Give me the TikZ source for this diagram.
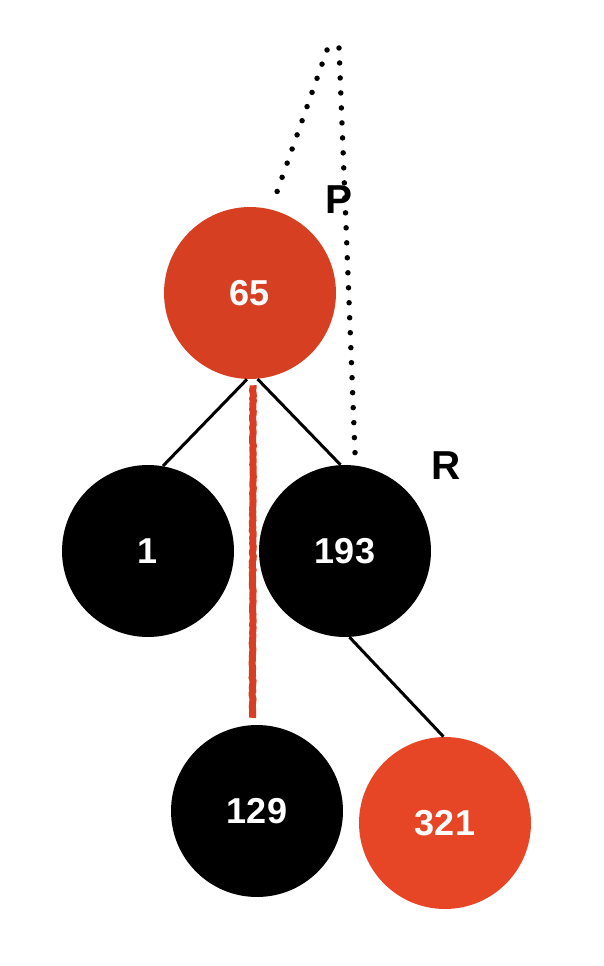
\documentclass[tikz,border=0pt]{standalone}
\usepackage{fontspec}
\setmainfont{Liberation Sans}
\usetikzlibrary{decorations.pathmorphing}
\definecolor{nodered}{HTML}{D73F23}
\definecolor{leafred}{HTML}{E64526}
\begin{document}
\begin{tikzpicture}[
  x=0.02cm, y=-0.02cm,
  rbnode/.style={circle, minimum size=3.44cm, inner sep=0pt, text=white, font=\fontsize{20.5}{24}\selectfont\bfseries},
  blacknode/.style={rbnode, fill=black},
  rednode/.style={rbnode, fill=nodered},
  edge/.style={line width=0.06cm},
  dots/.style={line width=0.11cm, line cap=round, dash pattern=on 0pt off 0.3cm},
  label/.style={font=\fontsize{23}{27}\selectfont\bfseries}
]
\useasboundingbox (0,0) rectangle (604,966);
\node[rednode] (n65) at (250,293) {65};
\node[blacknode] (n1) at (148,551) {1};
\node[blacknode] (n193) at (345,551) {193};
\node[blacknode] (n129) at (257,811) {129};
\node[rednode, fill=leafred] (n321) at (445,823) {321};
\node[label] (lblP) at (339,200) {P};
\node[label] (lblR) at (446,466) {R};
\coordinate (topL) at (327,50);
\coordinate (topR) at (339,48);

\draw[dots, shorten >=0.24cm] (topL) -- (n65.76);
\draw[dots] (topR) -- (n193.83);
\draw[edge] (n65.268) -- (n1.80);
\draw[edge] (n65.275) -- (n193.93);
\draw[edge] (n193.273) -- (n321.91);
\draw[nodered, line width=0.14cm, line cap=butt,
  decorate, decoration={random steps, segment length=1.5pt, amplitude=0.3pt}]
  ([yshift=-0.12cm]n65.272) -- ([yshift=0.14cm]n129.93);
\end{tikzpicture}
\end{document}
